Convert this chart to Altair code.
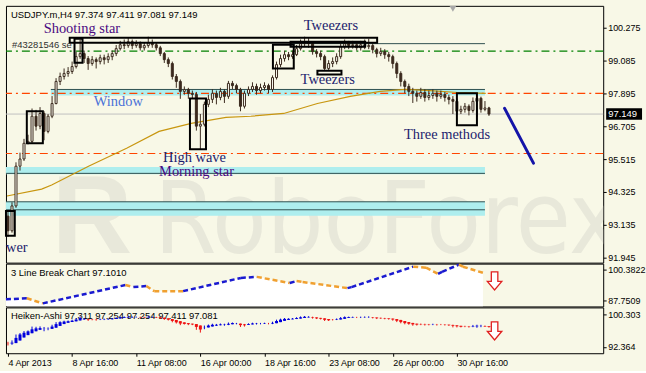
import altair as alt
import pandas as pd

# ---------------- data ----------------
symbol = "USDJPY.m,H4"
last_ohlc = ["97.374", "97.411", "97.081", "97.149"]
first_open = 93.45
closes = [92.92, 93.82, 95.26, 95.52, 96.09, 96.16, 97.07, 96.71, 97.17, 96.52,
          97.07, 97.53, 98.33, 98.51, 98.62, 98.69, 98.87, 99.23, 99.34, 99.16,
          98.98, 99.12, 99.05, 99.19, 99.12, 99.23, 99.34, 99.52, 99.66, 99.63,
          99.77, 99.63, 99.70, 99.55, 99.63, 99.73, 99.66, 99.55, 99.34, 99.12,
          98.98, 98.51, 98.33, 97.97, 98.04, 97.90, 97.86, 96.71, 96.78, 97.50,
          97.68, 97.90, 97.75, 97.97, 97.79, 98.26, 98.18, 98.04, 97.43, 97.90,
          98.04, 98.15, 98.00, 98.11, 98.18, 98.04, 98.47, 98.94, 99.16, 99.30,
          99.23, 99.30, 99.52, 99.70, 99.77, 99.70, 99.41, 99.34, 99.23, 98.80,
          98.98, 99.05, 99.23, 99.59, 99.70, 99.63, 99.66, 99.55, 99.66, 99.59,
          99.63, 99.48, 99.34, 99.41, 99.30, 99.23, 98.98, 98.62, 98.33, 98.15,
          97.97, 97.90, 97.79, 97.93, 97.75, 97.82, 97.90, 97.79, 97.86, 97.75,
          97.68, 97.61, 97.25, 97.32, 97.43, 97.28, 97.61, 97.72, 97.32, 97.37,
          97.149]
highs = [93.60, 93.95, 95.40, 95.75, 96.25, 96.40, 97.35, 97.30, 97.40, 97.25,
         97.15, 97.80, 98.45, 98.65, 98.80, 98.85, 99.05, 99.40, 99.84, 99.45,
         99.25, 99.25, 99.20, 99.30, 99.30, 99.35, 99.45, 99.65, 99.80, 99.85,
         99.90, 99.85, 99.82, 99.78, 99.75, 99.95, 99.85, 99.75, 99.62, 99.40,
         99.20, 99.05, 98.60, 98.40, 98.15, 98.10, 98.00, 97.95, 97.15, 97.60,
         97.85, 98.05, 98.00, 98.10, 98.05, 98.35, 98.35, 98.25, 98.10, 98.00,
         98.15, 98.30, 98.25, 98.25, 98.30, 98.25, 98.55, 99.05, 99.30, 99.45,
         99.40, 99.45, 99.65, 99.85, 99.95, 99.90, 99.78, 99.50, 99.45, 99.30,
         99.10, 99.20, 99.35, 99.70, 99.85, 99.80, 99.80, 99.75, 99.80, 99.85,
         99.88, 99.70, 99.55, 99.55, 99.50, 99.40, 99.30, 99.05, 98.70, 98.40,
         98.25, 98.10, 98.00, 98.10, 98.05, 98.00, 98.05, 98.00, 98.00, 97.95,
         97.85, 97.80, 97.70, 97.45, 97.55, 97.50, 97.75, 97.80, 97.78, 97.62,
         97.411]
lows = [92.70, 92.85, 93.75, 95.10, 95.45, 96.05, 96.10, 96.55, 96.60, 96.20,
        96.45, 97.00, 97.50, 98.20, 98.40, 98.50, 98.60, 98.80, 99.15, 99.00,
        98.75, 98.90, 98.80, 98.95, 98.95, 99.00, 99.10, 99.25, 99.45, 99.50,
        99.55, 99.50, 99.55, 99.45, 99.45, 99.55, 99.55, 99.45, 99.25, 99.00,
        98.85, 98.40, 98.10, 97.70, 97.85, 97.70, 97.70, 96.55, 95.87, 96.70,
        97.40, 97.55, 97.50, 97.65, 97.55, 97.70, 98.05, 97.90, 97.25, 97.35,
        97.80, 97.95, 97.85, 97.90, 98.00, 97.90, 97.95, 98.40, 98.85, 99.05,
        99.10, 99.15, 99.25, 99.45, 99.60, 99.55, 99.30, 99.20, 99.10, 98.72,
        98.72, 98.85, 98.95, 99.15, 99.50, 99.50, 99.52, 99.45, 99.45, 99.50,
        99.50, 99.35, 99.20, 99.25, 99.15, 99.05, 98.80, 98.45, 98.15, 97.90,
        97.80, 97.55, 97.60, 97.70, 97.60, 97.65, 97.70, 97.60, 97.70, 97.60,
        97.50, 97.15, 97.14, 97.15, 97.20, 97.10, 97.20, 97.05, 97.20, 97.25,
        97.081]

price_ticks = [100.275, 99.085, 97.895, 96.705, 95.515, 94.325, 93.135, 91.945]
time_tick_bars = [0, 16, 32, 48, 64, 80, 96, 112]
time_tick_labels = ["4 Apr 2013", "8 Apr 16:00", "11 Apr 08:00", "16 Apr 00:00",
                    "18 Apr 16:00", "23 Apr 08:00", "26 Apr 00:00", "30 Apr 16:00"]

# moving average
ma_bar = [-0.25, 8.4, 10.9, 20.1, 29.6, 37.7, 45.7, 54.4, 60.6, 68.8, 77.2, 85.4,
          92.9, 99.1, 105.3, 112.2, 119.2]
ma_val = [94.18, 94.43, 94.58, 95.26, 95.91, 96.52, 96.81, 97.03, 97.07, 97.17,
          97.53, 97.79, 97.97, 98.04, 98.00, 97.93, 97.90]

# support / resistance zones
band_x0 = [10.7, -0.5, -0.5]
band_x1 = [119.0, 119.0, 119.0]
band_lo = [97.82, 94.97, 93.46]
band_hi = [98.06, 95.23, 93.97]
hl_x0 = [70.5, 10.7, -0.5, -0.5, -0.5]
hl_x1 = [119.0, 119.0, 119.0, 119.0, 119.0]
hl_y = [99.70, 98.04, 95.00, 93.97, 93.68]
dd_y = [99.43, 97.895, 95.72]
dd_color = ["#008000", "#ff4500", "#ff4500"]
bid_price = 97.149

# pattern boxes
box_x0 = [-0.5, 4.7, 16.6, 45.4, 66.1, 77.2, 112.0, 15.4, 70.5]
box_x1 = [1.7, 8.7, 18.6, 49.4, 71.3, 83.2, 117.0, 92.1, 89.1]
box_lo = [92.74, 96.09, 99.01, 95.87, 98.80, 98.58, 96.74, 99.73, 99.59]
box_hi = [93.64, 97.25, 99.88, 97.71, 99.66, 98.72, 97.90, 99.91, 99.77]

PURPLE = "#4b0a82"
NAVY = "#1c1c6e"
pattern_text = ["Shooting star", "Tweezers", "Tweezers", "Window", "High wave",
                "Morning star", "Three methods", "wer"]
pattern_bar = [8.9, 73.8, 73.0, 21.4, 38.7, 37.7, 98.8, -0.5]
pattern_price = [100.24, 100.35, 98.40, 97.57, 95.55, 95.05, 96.38, 92.31]
pattern_color = [PURPLE, NAVY, NAVY, "#4a72d8", NAVY, PURPLE, NAVY, NAVY]

order_label = "#43281546 se"
order_bar = 1.0
order_price = 99.66

trend_bar = [123.9, 131.1]
trend_price = [97.354, 95.371]

# 3 line break indicator trace
lb_label = "3 Line Break Chart 97.1010"
lb_bar = [-0.5, 4.7, 8.7, 29.3, 31.3, 34.5, 36.5, 43.7, 58.1, 62.1, 70.3, 72.0,
          73.5, 84.7, 85.7, 101.1, 104.3, 107.3, 108.3, 112.5, 113.5, 118.5]
lb_val = [88.17, 88.59, 86.49, 94.07, 93.22, 93.65, 91.54, 91.54, 97.01, 97.43,
          94.91, 95.75, 95.33, 92.80, 93.22, 101.65, 101.22, 98.70, 99.54, 102.49,
          101.65, 99.12]
lb_dir = ["up", "down", "up", "down", "up", "down", "down", "up", "up", "down",
          "up", "down", "down", "up", "up", "down", "down", "up", "up", "down", "down"]
lb_ticks = [100.3822, 87.7509]
lb_domain = [85.225, 102.91]

ha_label = "Heiken-Ashi 97.311 97.254 97.254 97.411 97.081"
ha_ticks = [100.303, 92.364]
ha_domain = [90.79, 102.06]

arrow_bar = 121.4
lb_arrow_val = 95.75
ha_arrow_val = 96.30
shift_marker_bar = 111.0

# ---------------- styling ----------------
BG = "#f8f8e7"
DARK = "#3b2a1e"
XDOM = [-0.5, 148.5]
W = 600

n = len(closes)
opens = [first_open] + closes[:-1]
df = pd.DataFrame({"i": list(range(n)), "open": opens, "high": highs,
                   "low": lows, "close": closes})

# Heiken-Ashi from the candles
ha_c = [(o + h + l + c) / 4 for o, h, l, c in zip(opens, highs, lows, closes)]
ha_o = [(opens[0] + closes[0]) / 2]
for k in range(1, n):
    ha_o.append((ha_o[k - 1] + ha_c[k - 1]) / 2)
ha = pd.DataFrame({
    "i": list(range(n)), "o": ha_o, "c": ha_c,
    "h": [max(a, b, c) for a, b, c in zip(highs, ha_o, ha_c)],
    "l": [min(a, b, c) for a, b, c in zip(lows, ha_o, ha_c)],
})
ha["col"] = ["#0000dd" if c >= o else "#ee1111" for o, c in zip(ha_o, ha_c)]

xs = alt.Scale(domain=XDOM, nice=False, zero=False, padding=0)


def X(field, axis=None):
    return alt.X(f"{field}:Q", scale=xs, axis=axis, title=None)


def Ymain(field):
    return alt.Y(f"{field}:Q",
                 scale=alt.Scale(domain=[91.765, 101.07], nice=False, zero=False,
                                 padding=0),
                 axis=alt.Axis(orient="right", values=price_ticks, format=".3f"),
                 title=None)


# ---------------- main panel ----------------
wm = pd.DataFrame({"t": ["RoboForex"], "r": ["R"]})
watermark = alt.Chart(wm).mark_text(
    font='"Liberation Sans Narrow", "DejaVu Sans Condensed", "Liberation Sans"',
    fontSize=100, color="#e8e8da", align="left", baseline="alphabetic", clip=True
).encode(x=alt.value(149), y=alt.value(248), text="t:N")
logo = alt.Chart(wm).mark_text(
    font="Liberation Sans", fontWeight="bold", fontSize=112, color="#e8e8da",
    align="left", baseline="alphabetic", clip=True
).encode(x=alt.value(46), y=alt.value(248), text="r:N")

bands = alt.Chart(pd.DataFrame({"x0": band_x0, "x1": band_x1, "lo": band_lo,
                                "hi": band_hi})).mark_rect(color="#aeeeee").encode(
    x=X("x0"), x2="x1:Q", y=Ymain("lo"), y2="hi:Q")
hlines = alt.Chart(pd.DataFrame({"x0": hl_x0, "x1": hl_x1, "y": hl_y})).mark_rule(
    color="#2f4f4f", strokeWidth=1).encode(x=X("x0"), x2="x1:Q", y=Ymain("y"))
ddlines = alt.Chart(pd.DataFrame({"y": dd_y, "c": dd_color})).mark_rule(
    strokeWidth=1.2, strokeDash=[8, 4, 2, 4]).encode(
    y=Ymain("y"), color=alt.Color("c:N", scale=None))
bidline = alt.Chart(pd.DataFrame({"y": [bid_price]})).mark_rule(
    color="#c0c0c0", strokeWidth=1).encode(y=Ymain("y"))
ma = alt.Chart(pd.DataFrame({"i": ma_bar, "v": ma_val})).mark_line(
    color="#c8960f", strokeWidth=1.2).encode(x=X("i"), y=Ymain("v"))

wicks = alt.Chart(df).mark_rule(color=DARK, strokeWidth=1).encode(
    x=X("i"), y=Ymain("low"), y2="high:Q")
bodies = alt.Chart(df).mark_bar(size=2, stroke=DARK, strokeWidth=1).encode(
    x=X("i"), y=Ymain("open"), y2="close:Q",
    fill=alt.condition("datum.close >= datum.open", alt.value("#fcfcf2"),
                       alt.value(DARK)))

boxes = alt.Chart(pd.DataFrame({"x0": box_x0, "x1": box_x1, "lo": box_lo,
                                "hi": box_hi})).mark_rect(
    fillOpacity=0, stroke="black", strokeWidth=2).encode(
    x=X("x0"), x2="x1:Q", y=Ymain("lo"), y2="hi:Q")

ptxt = alt.Chart(pd.DataFrame({"t": pattern_text, "i": pattern_bar,
                               "v": pattern_price, "c": pattern_color})).mark_text(
    font="Liberation Serif", fontSize=14.5, align="left", baseline="middle").encode(
    x=X("i"), y=Ymain("v"), text="t:N", color=alt.Color("c:N", scale=None))

otxt = alt.Chart(pd.DataFrame({"t": [order_label], "i": [order_bar],
                               "v": [order_price]})).mark_text(
    font="Liberation Sans", fontSize=9.5, align="left", baseline="middle",
    color="#303030").encode(x=X("i"), y=Ymain("v"), text="t:N")

trend = alt.Chart(pd.DataFrame({"i0": [trend_bar[0]], "i1": [trend_bar[1]],
                                "v0": [trend_price[0]], "v1": [trend_price[1]]})).mark_rule(
    color="#1414a8", strokeWidth=3, strokeCap="round").encode(
    x=X("i0"), x2="i1:Q", y=Ymain("v0"), y2="v1:Q")

header = alt.Chart(pd.DataFrame({"t": [symbol + "  " + " ".join(last_ohlc)]})).mark_text(
    font="Liberation Sans", fontSize=9.5, align="left", baseline="middle",
    color="black").encode(x=alt.value(5), y=alt.value(9), text="t:N")

shift = alt.Chart(pd.DataFrame({"i": [shift_marker_bar]})).mark_point(
    shape="triangle-down", filled=True, color="#a8a8a8", size=45, opacity=1).encode(
    x=X("i"), y=alt.value(3))

bidbox = alt.Chart(pd.DataFrame({"v": [bid_price], "t": [last_ohlc[3]]})).mark_point(
    shape="M-1,-0.32L1,-0.32L1,0.32L-1,0.32Z", filled=True, color="black",
    size=1300, opacity=1).encode(x=alt.value(621), y=Ymain("v"))
bidtxt = alt.Chart(pd.DataFrame({"v": [bid_price], "t": [last_ohlc[3]]})).mark_text(
    font="Liberation Sans", fontSize=9.5, align="left", baseline="middle",
    color="white").encode(x=alt.value(605), y=Ymain("v"), text="t:N")

main = alt.layer(watermark, logo, bands, hlines, ddlines, bidline, ma, wicks, bodies,
                 boxes, ptxt, otxt, trend, header, shift, bidbox, bidtxt).properties(
    width=W, height=258)

# ---------------- 3 line break panel ----------------
lb_scale = alt.Scale(domain=lb_domain, nice=False, zero=False, padding=0)


def Ylb(field):
    return alt.Y(f"{field}:Q", scale=lb_scale,
                 axis=alt.Axis(orient="right", values=lb_ticks, format=".4f"),
                 title=None)


lbpts = pd.DataFrame({"i": lb_bar, "v": lb_val})
lbseg = pd.DataFrame({"i0": lb_bar[:-1], "i1": lb_bar[1:], "v0": lb_val[:-1],
                      "v1": lb_val[1:], "d": lb_dir})
lb_area = alt.Chart(lbpts).mark_area(color="white", opacity=1, clip=True).encode(
    x=X("i"), y=Ylb("v"), y2=alt.datum(lb_domain[0]))
lb_text = alt.Chart(pd.DataFrame({"t": [lb_label]})).mark_text(
    font="Liberation Sans", fontSize=9.5, align="left", baseline="middle",
    color="black").encode(x=alt.value(5), y=alt.value(9), text="t:N")
lb_lines = alt.Chart(lbseg).mark_rule(strokeWidth=2.5, strokeDash=[5, 3]).encode(
    x=X("i0"), x2="i1:Q", y=Ylb("v0"), y2="v1:Q",
    color=alt.Color("d:N", scale=alt.Scale(domain=["up", "down"],
                                           range=["#1a1ad0", "#f0a030"]),
                    legend=None))
ARROW = "M-0.36,-1L0.36,-1L0.36,0.05L0.8,0.05L0,1L-0.8,0.05L-0.36,0.05Z"
lb_arrow = alt.Chart(pd.DataFrame({"i": [arrow_bar], "v": [lb_arrow_val]})).mark_point(
    shape=ARROW, filled=True, fill="white", stroke="#e02020", strokeWidth=1.3,
    size=330, opacity=1).encode(x=X("i"), y=Ylb("v"))
p2 = alt.layer(lb_area, lb_text, lb_lines, lb_arrow).properties(width=W, height=43)

# ---------------- Heiken-Ashi panel ----------------
ha_scale = alt.Scale(domain=ha_domain, nice=False, zero=False, padding=0)
xaxis = alt.Axis(values=time_tick_bars, labelAlign="left", labelPadding=2,
                 tickSize=3, labelOverlap=False, labelFlush=False,
                 labelExpr="[" + ",".join(f"'{s}'" for s in time_tick_labels)
                 + "][round(datum.value/16)]")


def Yha(field):
    return alt.Y(f"{field}:Q", scale=ha_scale,
                 axis=alt.Axis(orient="right", values=ha_ticks, format=".3f"),
                 title=None)


ha_text = alt.Chart(pd.DataFrame({"t": [ha_label]})).mark_text(
    font="Liberation Sans", fontSize=9.5, align="left", baseline="middle",
    color="black").encode(x=alt.value(5), y=alt.value(9), text="t:N")
ha_w = alt.Chart(ha).mark_rule(strokeWidth=1).encode(
    x=X("i", xaxis), y=Yha("l"), y2="h:Q", color=alt.Color("col:N", scale=None))
ha_b = alt.Chart(ha).mark_bar(size=3).encode(
    x=X("i", xaxis), y=Yha("o"), y2="c:Q", color=alt.Color("col:N", scale=None))
ha_arrow = alt.Chart(pd.DataFrame({"i": [arrow_bar], "v": [ha_arrow_val]})).mark_point(
    shape=ARROW, filled=True, fill="white", stroke="#e02020", strokeWidth=1.3,
    size=330, opacity=1).encode(x=X("i", xaxis), y=Yha("v"))
p3 = alt.layer(ha_text, ha_w, ha_b, ha_arrow).properties(width=W, height=46)

chart = alt.vconcat(main, p2, p3, spacing=1, bounds="flush").resolve_scale(
    x="independent", y="independent", color="independent").properties(
    background=BG, padding={"left": 4, "top": 4, "right": 0, "bottom": 2}
).configure_view(stroke="black", strokeWidth=1, fill=BG).configure_axis(
    labelFont="Liberation Sans", labelFontSize=9, labelColor="black",
    tickColor="black", tickSize=3, labelPadding=1.5, domain=False, grid=False)

chart.save("out.html", embed_options={"renderer": "svg", "actions": False})
